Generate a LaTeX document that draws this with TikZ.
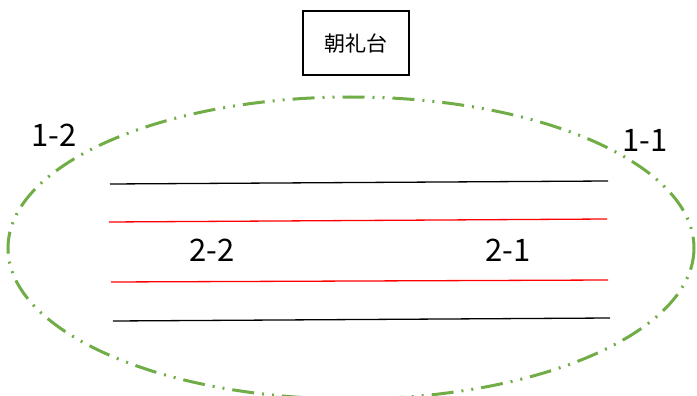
\documentclass[tikz,border=0pt]{standalone}
\usepackage{fontspec}
\setmainfont{Noto Sans CJK JP}
\usepackage{tikz}
\definecolor{fieldgreen}{RGB}{112,173,71}
\definecolor{lanered}{RGB}{255,0,0}
\tikzset{
  stage/.style={draw, line width=2pt, minimum width=106pt, minimum height=64pt, font=\fontsize{21}{21}\selectfont},
  place/.style={font=\fontsize{31}{31}\selectfont},
  track/.style={line width=1.3pt},
}
\begin{document}
\begin{tikzpicture}[x=1pt, y=-1pt]
  \useasboundingbox (0,0) rectangle (697,396);
  \node[stage] (dai) at (356,43) {朝礼台};
  % field
  \draw[fieldgreen, line width=3pt, dash pattern=on 22pt off 8pt on 2pt off 8pt on 2pt off 8pt] (351,248) ellipse [x radius=343, y radius=151];
  \node[place] (p12) at (54,135) {1-2};
  \node[place] (p11) at (645,140) {1-1};
  \node[place] (p22) at (212,250) {2-2};
  \node[place] (p21) at (508,250) {2-1};
  % lanes
  \coordinate (a1) at (110,184); \coordinate (a2) at (608,181);
  \coordinate (b1) at (109,222); \coordinate (b2) at (607,219);
  \coordinate (c1) at (111,282); \coordinate (c2) at (608,280);
  \coordinate (d1) at (113,321); \coordinate (d2) at (610,318);
  \draw[track] (a1) -- (a2);
  \draw[track, lanered] (b1) -- (b2);
  \draw[track, lanered] (c1) -- (c2);
  \draw[track] (d1) -- (d2);
\end{tikzpicture}
\end{document}
